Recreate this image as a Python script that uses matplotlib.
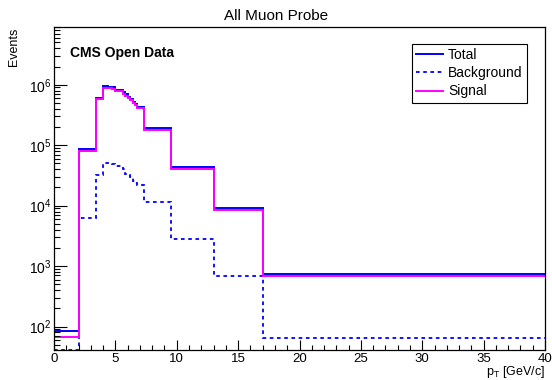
import numpy as np
import matplotlib
matplotlib.use('Agg')
import matplotlib.pyplot as plt
from matplotlib.ticker import LogLocator, MultipleLocator, NullFormatter

plt.rcParams['font.family'] = ['Liberation Sans', 'DejaVu Sans']
plt.rcParams['mathtext.fontset'] = 'custom'
plt.rcParams['mathtext.rm'] = 'Liberation Sans'
plt.rcParams['mathtext.it'] = 'Liberation Sans:italic'

# pT bin edges [GeV/c]
edges = [0.0, 2.0, 3.4, 4.0, 4.4, 4.7, 5.0, 5.6, 5.8, 6.0, 6.2, 6.4,
         6.6, 6.8, 7.3, 9.5, 13.0, 17.0, 40.0]

# events per bin
total = [83, 8.7e4, 6.0e5, 9.4e5, 9.3e5, 9.1e5, 8.2e5, 7.5e5, 6.9e5,
         6.3e5, 5.8e5, 5.25e5, 4.8e5, 4.3e5, 1.9e5, 4.3e4, 9.2e3, 750]
background = [41, 6300, 3.2e4, 5.07e4, 5.0e4, 4.89e4, 4.47e4, 4.03e4, 3.4e4,
              3.2e4, 2.93e4, 2.58e4, 2.35e4, 2.2e4, 1.15e4, 2850, 690, 65]
signal = [67, 8.0e4, 5.7e5, 8.9e5, 8.8e5, 8.6e5, 7.75e5, 7.1e5, 6.55e5,
          6.0e5, 5.5e5, 5.0e5, 4.55e5, 4.1e5, 1.78e5, 4.0e4, 8.5e3, 685]

fig = plt.figure(figsize=(5.52, 3.80), dpi=100)
ax = fig.add_axes([54 / 552, 1 - 350 / 380, 491 / 552, 323 / 380])

ax.stairs(total, edges, baseline=None, color='#0000ff', lw=1.4, label='Total')
ax.stairs(background, edges, baseline=None, color='#0000ff', lw=1.3,
          ls=(0, (2, 2)), label='Background')
ax.stairs(signal, edges, baseline=None, color='#ff00ff', lw=1.4, label='Signal')

ax.set_yscale('log')
ax.set_xlim(0, 40)
ax.set_ylim(41, 9e6)

ax.xaxis.set_major_locator(MultipleLocator(5))
ax.xaxis.set_minor_locator(MultipleLocator(1))
ax.yaxis.set_major_locator(LogLocator(base=10, numticks=10))
ax.yaxis.set_minor_locator(LogLocator(base=10, subs=np.arange(2, 10), numticks=20))
ax.yaxis.set_minor_formatter(NullFormatter())
ax.tick_params(which='both', direction='in', top=False, right=False)
ax.tick_params(axis='x', which='major', length=7, width=0.8, pad=2, labelsize=9.5)
ax.tick_params(axis='x', which='minor', length=3.5, width=0.8)
ax.tick_params(axis='y', which='major', length=9, width=0.8, pad=2, labelsize=10)
ax.tick_params(axis='y', which='minor', length=4.5, width=0.8)
for sp in ax.spines.values():
    sp.set_linewidth(0.9)

fig.text(0.5, 1 - 16 / 380, 'All Muon Probe', ha='center', va='center', fontsize=11)
fig.text(70 / 552, 1 - 53 / 380, 'CMS Open Data', ha='left', va='center',
         fontsize=10, fontweight='bold')
fig.text(14 / 552, 1 - 28 / 380, 'Events', rotation=90, ha='center', va='top',
         fontsize=9)
fig.text(545 / 552, 1 - 379.5 / 380, r'p$_{\mathrm{T}}$ [GeV/c]', ha='right',
         va='bottom', fontsize=9)

leg = ax.legend(loc='upper left', bbox_to_anchor=(412 / 552, 1 - 44 / 380),
                bbox_transform=fig.transFigure, fontsize=10, frameon=True,
                fancybox=False, edgecolor='black', framealpha=1,
                handlelength=1.9, handletextpad=0.4, labelspacing=0.3,
                borderpad=0.3, borderaxespad=0)
leg.get_frame().set_linewidth(0.8)

fig.savefig('out.png', dpi=100)
